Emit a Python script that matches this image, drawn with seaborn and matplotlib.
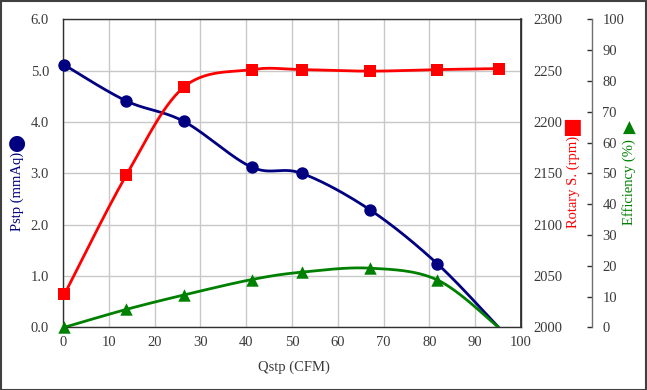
import numpy as np
import pandas as pd
import matplotlib
matplotlib.use("Agg")
import matplotlib.pyplot as plt
import seaborn as sns
from matplotlib.patches import Rectangle

# ---- data ----
qstp = [0.3, 13.8, 26.4, 41.2, 52.1, 67.0, 81.7, 95.1]
pstp = [5.11, 4.41, 4.01, 3.12, 3.00, 2.29, 1.24, 0.0]
rpm = [2032, 2148, 2234, 2251, 2251, 2249.5, 2251, 2252]
eff = [0.0, 5.8, 10.5, 15.5, 17.9, 19.2, 15.4, 0.0]
pstp_marked = [True, True, True, True, True, True, True, False]
rpm_marked = [True, True, True, True, True, True, True, True]
eff_marked = [True, True, True, True, True, True, True, False]

x_ticks = list(range(0, 101, 10))
p_ticks = [0, 1, 2, 3, 4, 5, 6]
r_ticks = list(range(2000, 2301, 50))
e_ticks = list(range(0, 101, 10))

NAVY = "#000080"
RED = "#ff0000"
GREEN = "#008000"
TXT = "#3a3a3a"


def smooth(xs, ys, n=30):
    """Catmull-Rom rendering of the line between the given points."""
    P = np.column_stack([xs, ys]).astype(float)
    P = np.vstack([P[0], P, P[-1]])
    out = []
    t = np.linspace(0, 1, n)[:, None]
    for i in range(1, len(P) - 2):
        p0, p1, p2, p3 = P[i - 1], P[i], P[i + 1], P[i + 2]
        seg = 0.5 * ((2 * p1) + (-p0 + p2) * t + (2 * p0 - 5 * p1 + 4 * p2 - p3) * t ** 2
                     + (-p0 + 3 * p1 - 3 * p2 + p3) * t ** 3)
        out.append(seg if i == 1 else seg[1:])
    out = np.vstack(out)
    return out[:, 0], out[:, 1]


sns.set_theme(style="white")
plt.rcParams["font.family"] = ["Liberation Serif", "DejaVu Sans"]

W, H = 647, 390
fig = plt.figure(figsize=(W / 100, H / 100), dpi=100)
L, R, T, B = 63, 521, 19.3, 327.3
ax = fig.add_axes([L / W, 1 - B / H, (R - L) / W, (B - T) / H])
ax2 = ax.twinx()
ax3 = ax.twinx()
ax.set_zorder(1)
ax.patch.set_visible(False)
ax2.set_zorder(2)
ax3.set_zorder(3)

# grid on primary axis
ax.set_xlim(0, 100)
ax.set_ylim(0, 6)
ax.set_xticks(x_ticks)
ax.set_yticks(p_ticks)
ax.set_yticklabels([f"{v:.1f}" for v in p_ticks])
ax.grid(True, color="#c8c8c8", linewidth=1.0)
ax.set_axisbelow(True)

# Pstp
sx, sy = smooth(qstp, pstp)
sns.lineplot(x=sx, y=sy, ax=ax, color=NAVY, linewidth=2.0, sort=False, estimator=None, zorder=3)
dp = pd.DataFrame({"q": qstp, "p": pstp, "m": pstp_marked})
dp = dp[dp.m]
sns.scatterplot(data=dp, x="q", y="p", ax=ax, color=NAVY, marker="o", s=80, edgecolor=NAVY,
                linewidth=0, zorder=4, clip_on=False)

# Rotary speed
sx, sy = smooth(qstp, rpm)
ax2.set_ylim(2000, 2300)
ax2.set_yticks(r_ticks)
sns.lineplot(x=sx, y=sy, ax=ax2, color=RED, linewidth=2.0, sort=False, estimator=None, zorder=3)
dr = pd.DataFrame({"q": qstp, "r": rpm, "m": rpm_marked})
dr = dr[dr.m]
sns.scatterplot(data=dr, x="q", y="r", ax=ax2, color=RED, marker="s", s=85, edgecolor=RED,
                linewidth=0, zorder=4, clip_on=False)

# Efficiency
sx, sy = smooth(qstp, eff)
ax3.set_ylim(0, 100)
ax3.set_yticks(e_ticks)
sns.lineplot(x=sx, y=sy, ax=ax3, color=GREEN, linewidth=2.0, sort=False, estimator=None, zorder=3)
de = pd.DataFrame({"q": qstp, "e": eff, "m": eff_marked})
de = de[de.m]
sns.scatterplot(data=de, x="q", y="e", ax=ax3, color=GREEN, marker="^", s=80, edgecolor=GREEN,
                linewidth=0, zorder=4, clip_on=False)

for a in (ax, ax2, ax3):
    a.set_xlim(0, 100)
    a.set_xlabel("")
    a.set_ylabel("")

# spines
for s in ("left", "right", "top", "bottom"):
    ax.spines[s].set_color("#303030")
    ax.spines[s].set_linewidth(1.0)
for s in ("left", "top", "bottom"):
    ax2.spines[s].set_visible(False)
ax2.spines["right"].set_color("#303030")
for s in ("left", "top", "bottom"):
    ax3.spines[s].set_visible(False)
ax3.spines["right"].set_position(("axes", (592 - L) / (R - L)))
ax3.spines["right"].set_color("#707070")
ax3.spines["right"].set_linewidth(1.0)

fs = 10.5
ax.tick_params(axis="both", length=0, labelsize=fs, labelcolor=TXT)
ax.tick_params(axis="y", pad=10)
ax.tick_params(axis="x", pad=6)
ax2.tick_params(axis="y", length=0, labelsize=fs, labelcolor=TXT, pad=9)
ax3.tick_params(axis="y", direction="in", length=3.5, width=1.0, color="#303030",
                labelsize=fs, labelcolor=TXT, pad=7.5)

# axis titles with symbols
fig.text(17 / W, 1 - 191 / H, "Pstp (mmAq)", rotation=90, color=NAVY, fontsize=fs,
         ha="center", va="center")
fig.text(17 / W, 1 - 143 / H, "●", color=NAVY, fontsize=15, ha="center", va="center",
         family="DejaVu Sans")
fig.text(573 / W, 1 - 182 / H, "Rotary S. (rpm)", rotation=90, color=RED, fontsize=fs,
         ha="center", va="center")
fig.text(572 / W, 1 - 127 / H, "■", color=RED, fontsize=15, ha="center", va="center",
         family="DejaVu Sans")
fig.text(629 / W, 1 - 182 / H, "Efficiency (%)", rotation=90, color=GREEN, fontsize=fs,
         ha="center", va="center")
fig.text(629 / W, 1 - 128 / H, "▲", color=GREEN, fontsize=12, ha="center", va="center",
         family="DejaVu Sans")
fig.text(294 / W, 1 - 367 / H, "Qstp (CFM)", color=TXT, fontsize=fs, ha="center", va="center")

# outer border
fig.patches.append(Rectangle((0.5 / W, 0.5 / H), 1 - 1.5 / W, 1 - 1.5 / H, transform=fig.transFigure,
                             fill=False, edgecolor="#404040", linewidth=1.5))

fig.savefig("out.png", dpi=100)
